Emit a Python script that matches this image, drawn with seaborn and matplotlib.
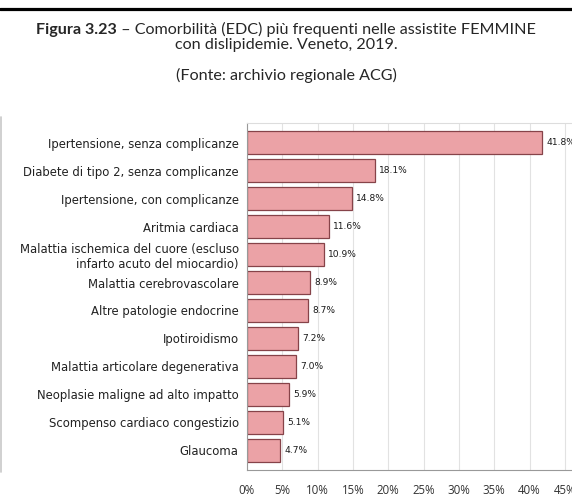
"""Comorbidità (EDC) più frequenti nelle assistite FEMMINE con dislipidemie - Veneto 2019."""
import matplotlib
matplotlib.use("Agg")
import matplotlib.pyplot as plt
import seaborn as sns
import pandas as pd
from matplotlib.lines import Line2D
from matplotlib.ticker import FuncFormatter

categories = [
    "Ipertensione, senza complicanze",
    "Diabete di tipo 2, senza complicanze",
    "Ipertensione, con complicanze",
    "Aritmia cardiaca",
    "Malattia ischemica del cuore (escluso\ninfarto acuto del miocardio)",
    "Malattia cerebrovascolare",
    "Altre patologie endocrine",
    "Ipotiroidismo",
    "Malattia articolare degenerativa",
    "Neoplasie maligne ad alto impatto",
    "Scompenso cardiaco congestizio",
    "Glaucoma",
]
values = [41.8, 18.1, 14.8, 11.6, 10.9, 8.9, 8.7, 7.2, 7.0, 5.9, 5.1, 4.7]
xticks = [0, 5, 10, 15, 20, 25, 30, 35, 40, 45]

df = pd.DataFrame({"cat": categories, "val": values})

sns.set_style("white")
plt.rcParams["font.family"] = ["DejaVu Sans"]

fig = plt.figure(figsize=(5.72, 5.01), dpi=100)
ax = fig.add_axes([0.4318, 0.0619, 0.568, 0.6926])

sns.barplot(data=df, x="val", y="cat", orient="h", color="#EBA2A6",
            saturation=1, width=0.83, edgecolor="#864349", linewidth=0.9, ax=ax)

for i, v in enumerate(values):
    ax.text(v + 0.6, i, f"{v:.1f}%", va="center", ha="left", fontsize=6.6, color="#1A1A1A")

ax.set_xlim(0, 46)
ax.set_ylim(11.7, -0.7)
ax.set_xticks(xticks)
ax.xaxis.set_major_formatter(FuncFormatter(lambda x, p: f"{x:.0f}%"))
ax.set_xlabel("")
ax.set_ylabel("")
ax.grid(axis="x", color="#E2E2E2", linewidth=0.8)
ax.set_axisbelow(True)
for s in ["left", "bottom"]:
    ax.spines[s].set_color("#999999")
    ax.spines[s].set_linewidth(0.8)
ax.spines["top"].set_color("#DDDDDD")
ax.spines["top"].set_linewidth(0.8)
ax.spines["right"].set_visible(False)
ax.tick_params(axis="y", length=4, color="#999999", labelsize=8.4, labelcolor="#222222", pad=2)
ax.tick_params(axis="x", length=4, color="#999999", labelsize=8.3, labelcolor="#333333", pad=6)
for t in ax.get_yticklabels():
    t.set_multialignment("right")
for t in ax.get_xticklabels():
    t.set_fontfamily("Open Sans")

# caption
fig.add_artist(Line2D([0, 1], [0.982, 0.982], color="black", linewidth=2.3))
fig.add_artist(Line2D([0.0026, 0.0026], [0.0579, 0.7665], color="#C8C8C8", linewidth=1.2))

cap_font = dict(family="Lato", size=11.6)
renderer = fig.canvas.get_renderer()
bold = fig.text(0, 0.941, "Figura 3.23", fontweight="bold", va="center", ha="left", **cap_font)
rest = fig.text(0, 0.941, " \u2013 Comorbilità (EDC) più frequenti nelle assistite FEMMINE",
                va="center", ha="left", **cap_font)
wb = bold.get_window_extent(renderer).width
wr = rest.get_window_extent(renderer).width
W = fig.bbox.width
x0 = (W - wb - wr) / 2 / W
bold.set_x(x0)
rest.set_x(x0 + wb / W)
fig.text(0.5, 0.911, "con dislipidemie. Veneto, 2019.", va="center", ha="center", **cap_font)
fig.text(0.5, 0.85, "(Fonte: archivio regionale ACG)", va="center", ha="center", **cap_font)

fig.savefig("out.png", dpi=100)
